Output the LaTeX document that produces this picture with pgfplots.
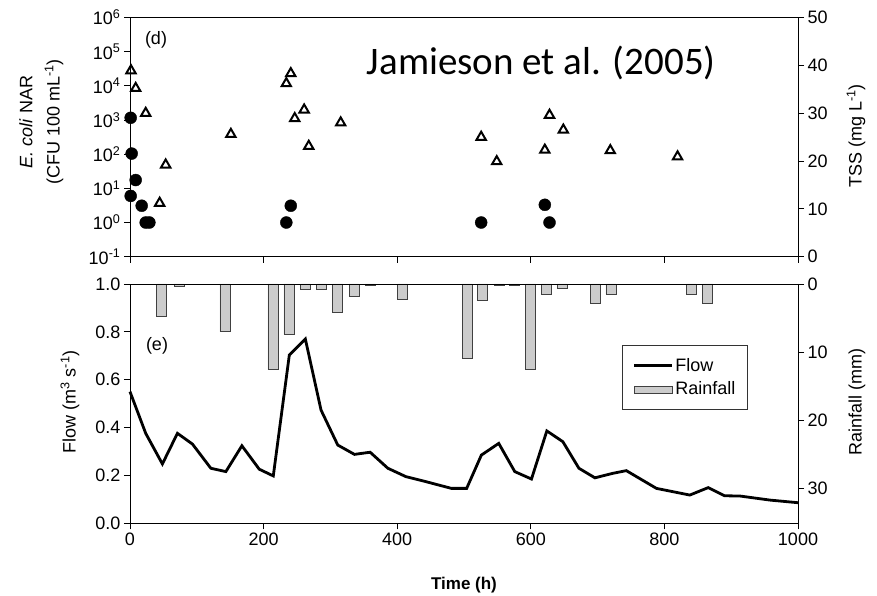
\documentclass[border=0pt]{standalone}
\usepackage{fontspec}
\setmainfont{Liberation Sans}
\newfontfamily\calibri{Carlito}
\usepackage{pgfplots}
\pgfplotsset{compat=1.18}

\pgfplotsset{
  base/.style={
    scale only axis, width=668pt, height=239.2pt,
    xmin=0, xmax=1000,
    tick align=outside, major tick length=6pt,
    axis line style={line width=0.9pt}, every tick/.style={line width=0.9pt, black},
    tick label style={font=\fontsize{18}{20}\selectfont},
    /pgf/number format/assume math mode=true,
    /pgf/number format/1000 sep={},
    clip=false,
  }
}

\begin{document}
\begin{tikzpicture}[x=1pt,y=1pt]
\useasboundingbox (0,0) rectangle (877,596);

% ---------------- top panel: E. coli (left, log) ----------------
\begin{axis}[base,
  at={(130pt,339.3pt)}, anchor=south west,
  ymode=log, ymin=0.1, ymax=1e6,
  ytick={0.1,1,10,100,1000,10000,100000,1000000},
  yticklabels={10\textsuperscript{-1},10\textsuperscript{0},10\textsuperscript{1},10\textsuperscript{2},10\textsuperscript{3},10\textsuperscript{4},10\textsuperscript{5},10\textsuperscript{6}},
  yminorticks=false,
  ytick pos=left, xtick pos=bottom,
  xtick={0,200,...,1000}, xticklabels={},
]
\addplot[only marks, mark=*, mark size=6pt, black] coordinates {
(1,6.0)(1,1160)(2.5,104)(8.5,17.5)(17.5,3.1)(23.5,1.0)(29,1.0)
(234,1.0)(240.7,3.1)(525.7,1.0)(621,3.3)(628,1.0)
};
\end{axis}

% ---------------- top panel: TSS (right) ----------------
\begin{axis}[base,
  at={(130pt,339.3pt)}, anchor=south west,
  ymin=0, ymax=50, ytick={0,10,...,50},
  axis y line*=right, axis x line=none,
]
\addplot[only marks, mark=triangle, mark size=5.4pt, line width=2pt, black] coordinates {
(1.5,38.9)(8.5,35.2)(23.5,30.0)(44.4,11.2)(53.4,19.2)(151,25.6)
(234,36.2)(240.7,38.3)(246.6,28.9)(260.7,30.7)(267.6,23.1)(315.4,28.0)
(525.7,25.0)(549,19.9)(621,22.3)(628,29.6)(648.7,26.5)(719,22.2)(819.7,20.9)
};
\end{axis}

% ---------------- bottom panel: Rainfall (right, reversed) ----------------
\begin{axis}[base,
  at={(130pt,72.7pt)}, anchor=south west, height=239.3pt,
  ymin=0, ymax=35.2, y dir=reverse, ytick={0,10,20,30},
  axis y line*=right, axis x line=none,
]
\addplot[ybar, bar width=15, bar shift=0pt, fill=gray!40, draw=black!75, line width=0.7pt] coordinates {
(47.5,4.8)(74,0.3)(142,7.0)(214,12.6)(238,7.4)(263,0.74)(287,0.74)(311,4.2)
(335.5,1.76)(360,0.25)(408,2.2)(505,11.0)(528,2.35)(553,0.2)(575.5,0.2)
(599.7,12.5)(623.5,1.5)(647,0.6)(696.5,2.8)(720,1.5)(840.5,1.5)(865,2.8)
};
\end{axis}

% ---------------- bottom panel: Flow (left) ----------------
\begin{axis}[base,
  at={(130pt,72.7pt)}, anchor=south west, height=239.3pt,
  ymin=0, ymax=1, ytick={0,0.2,...,1.0},
  yticklabel style={/pgf/number format/.cd, fixed, fixed zerofill, precision=1},
  ytick pos=left, xtick pos=bottom,
  xtick={0,200,...,1000},
  legend style={at={(0.737,0.745)}, anchor=north west, draw=black!80, line width=0.7pt,
    font=\fontsize{18}{20}\selectfont, inner xsep=10pt, inner ysep=11pt, row sep=5pt},
  legend cell align=left,
]
\addplot[black, line width=2.8pt, legend image code/.code={\draw[black, line width=2.8pt] (0pt,0pt) -- (38pt,0pt);}] coordinates {
(0,0.55)(23.5,0.376)(48.5,0.248)(71,0.376)(93.5,0.331)(121,0.23)(143.5,0.216)
(167.5,0.324)(193.5,0.226)(214.5,0.198)(238.5,0.703)(262.5,0.77)(286,0.473)
(311,0.327)(336,0.288)(359.5,0.297)(386,0.23)(413,0.195)(443,0.174)(481,0.146)
(504,0.146)(526,0.285)(552,0.334)(576,0.216)(601,0.185)(624,0.386)(648,0.341)
(672,0.23)(696,0.19)(723,0.209)(743,0.22)(788,0.146)(838,0.118)(865.5,0.149)
(890,0.115)(913,0.114)(958,0.097)(1000,0.086)
};
\addlegendentry{Flow}
\addlegendimage{legend image code/.code={\draw[fill=gray!40, draw=black!75, line width=0.7pt] (0pt,-4pt) rectangle (38pt,3pt);}}
\addlegendentry{Rainfall}
\end{axis}

% ---------------- text ----------------
\node[anchor=base west, font=\calibri\fontsize{39}{44}\selectfont, inner sep=0pt] at (366.7,521) {Jamieson et al. (2005)};
\node[font=\fontsize{18}{20}\selectfont] at (156,556) {(d)};
\node[font=\fontsize{18}{20}\selectfont] at (157,250) {(e)};
\node[rotate=90, font=\fontsize{18}{20}\selectfont] at (26,474) {\textit{E. coli} NAR};
\node[rotate=90, font=\fontsize{18}{20}\selectfont] at (54,474) {(CFU 100 mL\textsuperscript{-1})};
\node[rotate=90, font=\fontsize{18}{20}\selectfont] at (856,460) {TSS (mg L\textsuperscript{-1})};
\node[rotate=90, font=\fontsize{18}{20}\selectfont] at (70,194) {Flow (m\textsuperscript{3} s\textsuperscript{-1})};
\node[rotate=90, font=\fontsize{18}{20}\selectfont] at (857,194) {Rainfall (mm)};
\node[font=\bfseries\fontsize{17}{19}\selectfont] at (464,11) {Time (h)};
\end{tikzpicture}
\end{document}
